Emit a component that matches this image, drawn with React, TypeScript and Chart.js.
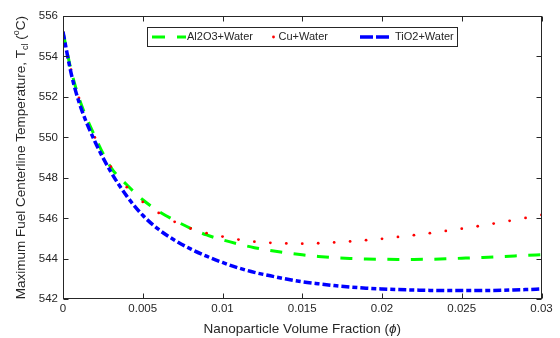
import React, { useEffect, useRef } from "react";
import { Chart, registerables } from "chart.js";

Chart.register(...registerables);

// ---- data ----
const phi = [
  0, 0.0005, 0.001, 0.002, 0.003, 0.004, 0.005, 0.006, 0.007, 0.008, 0.009, 0.01,
  0.011, 0.012, 0.013, 0.014, 0.015, 0.016, 0.017, 0.018, 0.019, 0.02,
  0.021, 0.022, 0.023, 0.024, 0.025, 0.026, 0.027, 0.028, 0.029, 0.03,
];
const al2o3Water = [
  555.22, 553.35, 551.95, 550.05, 548.52, 547.66, 546.92, 546.35, 545.9, 545.51, 545.18, 544.94,
  544.73, 544.55, 544.41, 544.3, 544.2, 544.12, 544.06, 544.02, 543.99, 543.98,
  543.97, 543.97, 543.98, 544.0, 544.03, 544.06, 544.09, 544.13, 544.17, 544.2,
];
const cuWater = [
  555.22, 553.35, 551.95, 550.0, 548.55, 547.54, 546.81, 546.27, 545.83, 545.5, 545.27, 545.1,
  544.95, 544.85, 544.79, 544.76, 544.75, 544.77, 544.81, 544.86, 544.92, 544.99,
  545.08, 545.17, 545.27, 545.38, 545.49, 545.61, 545.74, 545.88, 546.02, 546.17,
];
const tio2Water = [
  555.22, 553.2, 551.75, 549.8, 548.3, 547.1, 546.15, 545.45, 544.92, 544.49, 544.13, 543.82,
  543.55, 543.33, 543.16, 543.0, 542.87, 542.77, 542.68, 542.61, 542.55, 542.51,
  542.48, 542.46, 542.44, 542.43, 542.43, 542.43, 542.44, 542.46, 542.48, 542.51,
];
const seriesNames = ["Al2O3+Water", "Cu+Water", "TiO2+Water"];
const xTickValues = [0, 0.005, 0.01, 0.015, 0.02, 0.025, 0.03];
const xTickLabels = ["0", "0.005", "0.01", "0.015", "0.02", "0.025", "0.03"];
const yTickValues = [542, 544, 546, 548, 550, 552, 554, 556];
const yTickLabels = ["542", "544", "546", "548", "550", "552", "554", "556"];
const xTitleParts = ["Nanoparticle Volume Fraction (", "\u03d5", ")"];
const yTitleParts = ["Maximum Fuel Centerline Temperature, T", "cl", " (", "o", "C)"];

const FONT = '"Liberation Sans", Arial, Helvetica, sans-serif';
const AXIS = "#262626";

const framePlugin = {
  id: "matlabFrame",
  afterDatasetsDraw(chart: any) {
    const ctx: CanvasRenderingContext2D = chart.ctx;
    const { left, right, top, bottom } = chart.chartArea;
    const xs = chart.scales.x;
    const ys = chart.scales.y;
    ctx.save();
    // box
    ctx.strokeStyle = AXIS;
    ctx.lineWidth = 1;
    ctx.setLineDash([]);
    const L = Math.round(left) + 0.5;
    const R = Math.round(right) - 0.5;
    const T = Math.round(top) + 0.5;
    const B = Math.round(bottom) - 0.5;
    ctx.strokeRect(L, T, R - L, B - T);
    // inward ticks
    const tl = 5;
    ctx.beginPath();
    xTickValues.forEach((v) => {
      const px = Math.round(xs.getPixelForValue(v)) + 0.5;
      ctx.moveTo(px, B);
      ctx.lineTo(px, B - tl);
      ctx.moveTo(px, T);
      ctx.lineTo(px, T + tl);
    });
    yTickValues.forEach((v) => {
      const py = Math.round(ys.getPixelForValue(v)) + 0.5;
      ctx.moveTo(L, py);
      ctx.lineTo(L + tl, py);
      ctx.moveTo(R, py);
      ctx.lineTo(R - tl, py);
    });
    ctx.stroke();

    // legend
    const lx = 147.5, ly = 27.5, lw = 310, lh = 19;
    const cy = ly + lh / 2;
    ctx.fillStyle = "#ffffff";
    ctx.fillRect(lx, ly, lw, lh);
    ctx.strokeStyle = AXIS;
    ctx.lineWidth = 1;
    ctx.strokeRect(lx, ly, lw, lh);

    ctx.lineCap = "butt";
    ctx.strokeStyle = "#00ff00";
    ctx.lineWidth = 3;
    ctx.setLineDash([13, 12]);
    ctx.beginPath();
    ctx.moveTo(152, cy);
    ctx.lineTo(186, cy);
    ctx.stroke();

    ctx.setLineDash([]);
    ctx.fillStyle = "#ff0000";
    ctx.beginPath();
    ctx.arc(273.5, cy, 1.4, 0, Math.PI * 2);
    ctx.fill();

    ctx.strokeStyle = "#0000ff";
    ctx.lineWidth = 3.5;
    ctx.setLineDash([13, 3]);
    ctx.beginPath();
    ctx.moveTo(360, cy);
    ctx.lineTo(391, cy);
    ctx.stroke();
    ctx.setLineDash([]);

    ctx.fillStyle = AXIS;
    ctx.font = `11px ${FONT}`;
    ctx.textBaseline = "middle";
    ctx.textAlign = "left";
    ctx.fillText(seriesNames[0], 187, cy);
    ctx.fillText(seriesNames[1], 278.5, cy);
    ctx.fillText(seriesNames[2], 395, cy);

    // x title
    ctx.textBaseline = "alphabetic";
    const fN = `13.5px ${FONT}`;
    const fI = `italic 13.5px ${FONT}`;
    ctx.font = fN;
    const w0 = ctx.measureText(xTitleParts[0]).width;
    const w2 = ctx.measureText(xTitleParts[2]).width;
    ctx.font = fI;
    const w1 = ctx.measureText(xTitleParts[1]).width;
    const cx = (left + right) / 2;
    let x = cx - (w0 + w1 + w2) / 2;
    const by = 332.5;
    ctx.font = fN;
    ctx.fillText(xTitleParts[0], x, by);
    x += w0;
    ctx.font = fI;
    ctx.fillText(xTitleParts[1], x, by);
    x += w1;
    ctx.font = fN;
    ctx.fillText(xTitleParts[2], x, by);

    // y title (rotated)
    const fYN = `13.5px ${FONT}`;
    const fS = `9px ${FONT}`;
    const fonts = [fYN, fS, fYN, fS, fYN];
    const offs = [0, 3.5, 0, -6, 0];
    const widths = yTitleParts.map((t, i) => {
      ctx.font = fonts[i];
      return ctx.measureText(t).width;
    });
    const total = widths.reduce((a, b) => a + b, 0);
    ctx.translate(24.7, (top + bottom) / 2);
    ctx.rotate(-Math.PI / 2);
    let tx = -total / 2;
    yTitleParts.forEach((t, i) => {
      ctx.font = fonts[i];
      ctx.fillText(t, tx, offs[i]);
      tx += widths[i];
    });
    ctx.restore();
  },
};

export default function App() {
  const ref = useRef<HTMLCanvasElement>(null);
  useEffect(() => {
    document.body.style.margin = "0";
    const canvas = ref.current!;
    const mk = (ys: number[]) => phi.map((p, i) => ({ x: p, y: ys[i] }));
    const tickFont = { family: FONT, size: 11.5 };
    const chart = new Chart(canvas, {
      type: "line",
      data: {
        datasets: [
          {
            label: seriesNames[0],
            data: mk(al2o3Water),
            borderColor: "#00ff00",
            backgroundColor: "#00ff00",
            borderWidth: 3,
            borderDash: [12, 11.5],
            pointRadius: 0,
            cubicInterpolationMode: "monotone",
            fill: false,
            order: 2,
          },
          {
            label: seriesNames[1],
            data: mk(cuWater),
            borderColor: "#ff0000",
            backgroundColor: "#ff0000",
            showLine: false,
            pointRadius: 1.4,
            pointBorderWidth: 0,
            pointStyle: "circle",
            order: 1,
          },
          {
            label: seriesNames[2],
            data: mk(tio2Water),
            borderColor: "#0000ff",
            backgroundColor: "#0000ff",
            borderWidth: 3.5,
            borderDash: [8, 3, 5, 3],
            pointRadius: 0,
            cubicInterpolationMode: "monotone",
            fill: false,
            order: 0,
          },
        ],
      },
      options: {
        animation: false,
        responsive: false,
        events: [],
        layout: { padding: { left: 0, top: 16, right: 18.5, bottom: 0 } },
        plugins: {
          legend: { display: false },
          tooltip: { enabled: false },
          title: { display: false },
        },
        scales: {
          x: {
            type: "linear",
            min: 0,
            max: 0.03,
            afterBuildTicks: (s: any) => {
              s.ticks = xTickValues.map((v) => ({ value: v }));
            },
            afterFit: (s: any) => {
              s.height = 38.7;
            },
            ticks: {
              callback: (_v: any, i: number) => xTickLabels[i],
              font: tickFont,
              color: AXIS,
              padding: 3,
              maxRotation: 0,
              autoSkip: false,
            },
            grid: { display: false, drawTicks: false },
            border: { display: false },
          },
          y: {
            type: "linear",
            min: 542,
            max: 556,
            afterBuildTicks: (s: any) => {
              s.ticks = yTickValues.map((v) => ({ value: v }));
            },
            afterFit: (s: any) => {
              s.width = 63;
            },
            ticks: {
              callback: (_v: any, i: number) => yTickLabels[i],
              font: tickFont,
              color: AXIS,
              padding: 5,
              autoSkip: false,
            },
            grid: { display: false, drawTicks: false },
            border: { display: false },
          },
        },
      },
      plugins: [framePlugin],
    } as any);
    return () => chart.destroy();
  }, []);
  return (
    <div style={{ width: 560, height: 338 }}>
      <canvas ref={ref} width={560} height={338} style={{ display: "block" }} />
    </div>
  );
}
